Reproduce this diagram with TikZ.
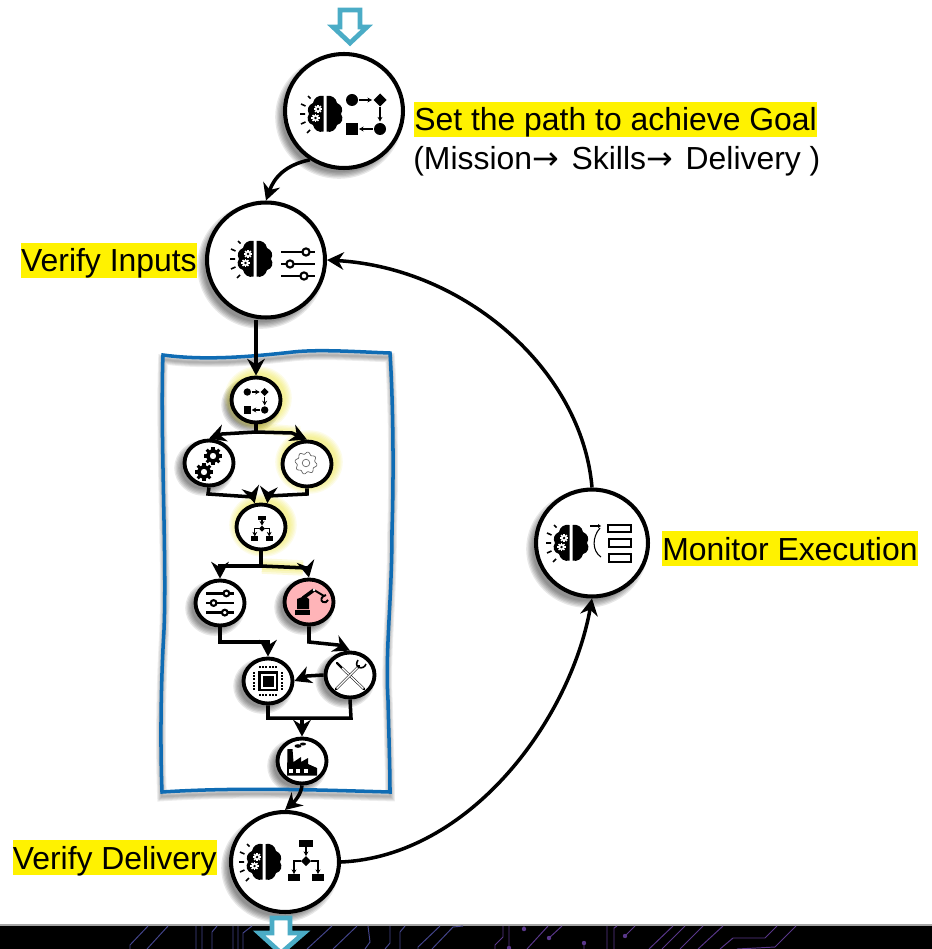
\documentclass[tikz,border=0pt]{standalone}
\usepackage{fontspec}
\setmainfont{Liberation Sans}
\newfontfamily\arrowfont{DejaVu Sans}
\usetikzlibrary{arrows.meta,shapes.geometric}
\definecolor{framecol}{HTML}{0F6CB4}
\definecolor{hollowcol}{HTML}{4BACC6}
\definecolor{robotcol}{HTML}{FFB4B8}
\definecolor{traceA}{HTML}{44458C}
\definecolor{traceB}{HTML}{59378A}
\newcommand{\softblob}[5]{%
  \foreach \k in {1,...,6} {\fill[#5,opacity=.09] (#1,#2) ellipse ({#3+\k*1.3} and {#4+\k*1.3});}}
\newcommand{\framepath}{(163,355) .. controls (200,360) and (240,358) .. (293,352)
  .. controls (320,349) and (360,352) .. (390,353) .. controls (393,400) and (394,470) .. (392,530)
  .. controls (392,600) and (385,650) .. (388,700) .. controls (389,740) and (390,770) .. (390,792)
  .. controls (320,790) and (240,787) .. (162,792) .. controls (160,740) and (161,680) .. (164,630)
  .. controls (167,560) and (160,430) .. (163,355) -- cycle}
\newcommand{\gearicon}{%
  \fill[even odd rule] (0,0) circle (7.5) circle (3.6);
  \foreach \a in {0,45,...,315} {\fill[rotate=\a] (-1.7,-10) rectangle (1.7,-6.5);}%
}
\newcommand{\brainicon}{%
  \foreach \s in {1,-1} {
    \fill[xscale=\s] (1.5,-18) .. controls (7,-19) and (11,-16) .. (12,-11)
      .. controls (17,-9) and (18.5,-4) .. (16,0) .. controls (19,4) and (17,10) .. (12,11)
      .. controls (11,16) and (6,19) .. (1.5,17.5) -- cycle;
  }
  \begin{scope}[white,shift={(-7,-5)},scale=.42]\gearicon\end{scope}
  \begin{scope}[white,shift={(-9.5,4)},scale=.42]\gearicon\end{scope}
  \draw[line width=.9pt] (-17,-18) -- (-14.5,-15.5) (-24,-10) -- (-19.5,-8) (-25,0) -- (-20,0)
    (-24,10) -- (-19.5,8) (-18,19) -- (-15,16);
}
\newcommand{\routeicon}{%
  \fill (-14,-14.5) circle (6);
  \fill (14,-21) -- (20.5,-14.5) -- (14,-8) -- (7.5,-14.5) -- cycle;
  \fill (14,14.5) circle (6);
  \fill (-20,8.5) rectangle (-8,20.5);
  \draw[tinyarr] (-7,-14.5) -- (6,-14.5);
  \draw[tinyarr] (14,-7) -- (14,7);
  \draw[tinyarr] (7,14.5) -- (-7,14.5);
}
\newcommand{\treeicon}{%
  \fill (-7,-20) rectangle (7,-13);
  \fill (0,-4) -- (5,1) -- (0,6) -- (-5,1) -- cycle;
  \fill (-18,14) rectangle (-6,21);
  \fill (6,14) rectangle (18,21);
  \draw[tinyarr] (0,-13) -- (0,-4);
  \draw[tinyarr] (-5,1) -- (-12,1) -- (-12,14);
  \draw[tinyarr] (5,1) -- (12,1) -- (12,14);
}
\newcommand{\slidericon}{%
  \draw[line width=1.4pt] (-17,-12) -- (17,-12) (-17,0) -- (17,0) (-17,12) -- (17,12);
  \foreach \kx/\ky in {8/-12,-8/0,6/12} {\draw[line width=1.2pt,fill=white] (\kx,\ky) circle (3.6);}%
}
\newcommand{\chipicon}{%
  \fill (-10,-10) rectangle (10,10);
  \fill[white] (-7.5,-7.5) rectangle (7.5,7.5);
  \fill (-5.5,-5.5) rectangle (5.5,5.5);
  \foreach \tk in {-8,-4.8,-1.6,1.6,4.8,8} {
    \fill (\tk-1,-15) rectangle (\tk+1,-12.6);
    \fill (\tk-1,12.6) rectangle (\tk+1,15);
    \fill (-15,\tk-1) rectangle (-12.6,\tk+1);
    \fill (12.6,\tk-1) rectangle (15,\tk+1);
  }
}
\newcommand{\toolicon}{%
  \draw[line width=1.4pt,line cap=round] (-13,-12) -- (-8,-7) -- (14,14);
  \draw[white,line width=.8pt] (-8,-7) -- (13.4,13.4);
  \draw[line width=1.4pt,line cap=round] (-14,14) -- (9,-9);
  \draw[white,line width=.8pt] (-13.4,13.4) -- (8,-8);
  \draw[line width=.9pt] (8,-15) .. controls (6,-12) and (6,-9) .. (9,-7.5)
    .. controls (12,-6.5) and (15,-8) .. (16,-11);
}
\newcommand{\roboticon}{%
  \fill (-14,8) rectangle (1,12.5);
  \fill (-12,-3) -- (-4,-6) -- (0,-3) -- (0,7) -- (-12,7) -- cycle;
  \draw[line width=2pt] (-6,-4) -- (5,-12);
  \draw[line width=1.1pt] (5,-12) -- (15,-6);
  \draw[line width=1.1pt] (17,-7) .. controls (12,-6) and (11,-1) .. (14,0) .. controls (16,1) and (18,0) .. (19,-2);
  \fill[white] (5,-12) circle (1.4);
}
\newcommand{\factoryicon}{%
  \fill (-15,14.5) -- (-14.5,-12) -- (-9.5,-12) -- (-8.5,1) -- (-1,-4) -- (-1,1) -- (6,-3) -- (6,3) -- (15,7) -- (15,14.5) -- cycle;
  \foreach \wx in {-11,-4,4} {\fill[white] (\wx-1.7,8) rectangle (\wx+1.7,11.5);}
  \fill (-4,-15) ellipse (3.5 and 1.8);
  \fill (1,-17) ellipse (3 and 1.5);
  \fill[white] (-13,-14) circle (1);
}
\newcommand{\trackicon}{%
  \draw[line width=.7pt] (2,-17) -- (12,-17);
  \fill (13,-17) -- (10,-19) -- (10,-15) -- cycle;
  \draw[line width=.6pt] (12,-15) .. controls (4,-6) and (4,8) .. (13,14);
  \draw[line width=1.2pt] (20,-18) rectangle (43,-11);
  \draw[line width=.8pt] (21,-4) rectangle (43,4);
  \draw[line width=.8pt] (21,11) rectangle (43,19);
}
\tikzset{
  arr/.style={-{Stealth[length=9.5pt,width=10pt]},line width=2pt},
  plainline/.style={line width=2pt},
  tinyarr/.style={-{Stealth[length=2.6pt,width=2.8pt]},line width=.7pt},
  bignode/.style={ellipse,draw,line width=2.3pt,fill=white,inner sep=0pt},
  smallnode/.style={ellipse,draw,line width=2.2pt,fill=white,inner sep=0pt,minimum width=.98cm,minimum height=.9cm},
  marker/.style={fill=yellow,inner sep=0pt,text height=16.6pt,text depth=3.4pt,font=\fontsize{18.15}{22}\selectfont},
  hollow/.style={draw=hollowcol,line width=2.7pt,fill=white,miter limit=10},
  trace/.style={line width=.55pt}
}
\begin{document}
\begin{tikzpicture}[x=0.02cm,y=-0.02cm]
  \useasboundingbox (0,0) rectangle (932,949);
  % band along the bottom edge
  \fill[black] (0,925) rectangle (932,949);
  \draw[gray!70,line width=.6pt] (0,925) -- (932,925);
  \draw[trace,traceA] (130,949) -- (130,945) -- (148,926) (147,949) -- (168,926)
    (196,926) -- (196,949) (202,926) -- (202,949) (212,949) -- (212,932) -- (217,926)
    (233,926) -- (233,949) (238,926) -- (238,949) (243,949) -- (243,933) -- (252,926)
    (307,949) -- (332,926) (333,949) -- (357,926) (368,926) -- (370,942) -- (365,949)
    (385,949) -- (390,943) -- (390,926) (400,949) -- (400,932) -- (405,926)
    (418,949) -- (418,947) -- (440,926) (432,949) -- (453,927) -- (463,926);
  \draw[trace,traceB] (503,926) -- (503,937) -- (495,945) -- (495,949) (509,926) -- (509,948)
    (524,926) -- (524,929) (527,949) -- (548,926) (549,938) -- (562,926) (584,943) -- (584,949)
    (607,926) -- (607,949) (614,949) -- (614,928) -- (617,926) (625,936) -- (635,926)
    (649,949) -- (673,926) (662,949) -- (685,926) (680,949) -- (703,926) (698,949) -- (723,926)
    (720,949) -- (733,938) -- (765,938) -- (777,926) (737,949) -- (775,947) -- (796,926);
  \foreach \dx/\dy in {509/948,524/929,549/938,584/943,625/936} {\fill[traceB] (\dx,\dy) circle (2.2);}
  % soft shadows and glows
  \foreach \sx/\sy/\rx/\ry in {339/117/56/54,261/266/56/55,587/549/53/51,280/868/51/47,
    251/405/22/20,204/468/22/20,215/608/22/20,304/607/22/20,263/686/22/20,345/680/22/20,297/766/22/20} {
    \softblob{\sx}{\sy}{\rx}{\ry}{black}
  }
  \foreach \sx/\sy in {258/398,309/462,263/525} {\softblob{\sx}{\sy}{26}{24}{yellow!90!black}}
  \foreach \k in {1,...,4} {
    \draw[yellow!90!black,opacity=.14,line width=\k*2.2pt] (262,566) -- (303,568);
    \draw[yellow!90!black,opacity=.1,line width=\k*1.6pt] (256,428) -- (300,432);
  }
  % frame
  \foreach \k in {1,...,5} {
    \draw[black,opacity=.07,line width=\k*1.1pt,yshift=-.09cm] \framepath;
  }
  \draw[framecol,line width=2pt] \framepath;
  % steps
  \node[bignode,minimum width=2.36cm,minimum height=2.28cm] (planner) at (344,111) {};
  \node[bignode,minimum width=2.36cm,minimum height=2.3cm] (inputs) at (266,260) {};
  \node[bignode,minimum width=2.24cm,minimum height=2.14cm] (monitor) at (592,543) {};
  \node[bignode,minimum width=2.16cm,minimum height=2cm] (delivery) at (285,862) {};
  \node[smallnode] (routeA) at (256,400) {};
  \node[smallnode] (gearsA) at (209,463) {};
  \node[smallnode] (gearB) at (307,464) {};
  \node[smallnode] (treeA) at (261,527) {};
  \node[smallnode] (slidersA) at (220,603) {};
  \node[smallnode,fill=robotcol] (robot) at (309,602) {};
  \node[smallnode] (chip) at (268,681) {};
  \node[smallnode] (tools) at (350,675) {};
  \node[smallnode] (factory) at (302,761) {};
  % icons
  \begin{scope}[shift={(325,114)}]\brainicon\end{scope}
  \begin{scope}[shift={(366,114.5)}]\routeicon\end{scope}
  \begin{scope}[shift={(255,259)}]\brainicon\end{scope}
  \begin{scope}[shift={(298,264)}]\slidericon\end{scope}
  \begin{scope}[shift={(571,543)}]\brainicon\end{scope}
  \begin{scope}[shift={(588,543)}]\trackicon\end{scope}
  \begin{scope}[shift={(264,862)}]\brainicon\end{scope}
  \begin{scope}[shift={(306,860)}]\treeicon\end{scope}
  \begin{scope}[shift={(256,401)},scale=.62]\routeicon\end{scope}
  \begin{scope}[shift={(213,456)},scale=.9]\gearicon\end{scope}
  \begin{scope}[shift={(204,472)},scale=.9]\gearicon\end{scope}
  \draw[black!65,line width=.35pt] plot[domain=0:360,samples=97,smooth] ({306+(10+1.1*sin(8*\x))*cos(\x)},{463+(10+1.1*sin(8*\x))*sin(\x)});
  \draw[black!65,line width=.35pt] (306,463) circle (3.8);
  \begin{scope}[shift={(262,528)},scale=.6]\treeicon\end{scope}
  \begin{scope}[shift={(220,603)},scale=.8]\slidericon\end{scope}
  \begin{scope}[shift={(309,602)}]\roboticon\end{scope}
  \begin{scope}[shift={(268,681)}]\chipicon\end{scope}
  \begin{scope}[shift={(350,675)}]\toolicon\end{scope}
  \begin{scope}[shift={(302,761)}]\factoryicon\end{scope}
  % connectors
  \coordinate (splitA) at (256,432);
  \coordinate (splitB) at (261,566);
  \coordinate (joinC) at (302,718);
  \draw[arr] (planner.235) .. controls (285,165) and (274,178) .. (inputs.90);
  \draw[arr] (inputs.south -| routeA) -- (routeA.north);
  \draw[plainline] (routeA.south) -- (splitA);
  \draw[arr] (splitA) -- (222,434) -- (gearsA.north);
  \draw[arr] (splitA) -- (292,433) -- (gearB.north);
  \draw[arr] (gearsA.south) -- (208,494) -- (253,497) -- (treeA.105);
  \draw[arr] (gearB.south) -- (307,494) -- (268,496) -- (treeA.75);
  \draw[plainline] (treeA.south) -- (splitB);
  \draw[arr] (splitB) -- (220,566) -- (slidersA.north);
  \draw[arr] (splitB) -- (307,568) -- (robot.north);
  \draw[arr] (slidersA.south) -- (220,642) -- (268,642) -- (chip.north);
  \draw[arr] (robot.south) -- (309,642) -- (338,645) -- (tools.north);
  \draw[arr] (tools.west) -- (307,676) -- (chip.east);
  \draw[plainline] (chip.south) -- (268,718) -- (351,718) -- (tools.south);
  \draw[arr] (joinC) -- (factory.north);
  \draw[arr] (factory.south) .. controls (301,795) and (294,802) .. (delivery.north);
  \draw[arr] (delivery.east) .. controls (470,856) and (570,720) .. (monitor.south);
  \draw[arr] (monitor.north) .. controls (582,370) and (465,268) .. (inputs.east);
  % hollow arrows
  \draw[hollow] (340,10) -- (360,10) -- (360,27) -- (367,27) -- (350,43) -- (333,27) -- (340,27) -- cycle;
  \draw[hollow] (272,918) -- (290,918) -- (290,933) -- (304,933) -- (281,953) -- (259,933) -- (272,933) -- cycle;
  % labels
  \node[marker,anchor=base west] (planText) at (414,131) {Set the path to achieve Goal};
  \node[font=\fontsize{18.15}{22}\selectfont,inner sep=0pt,anchor=base west] (planNote) at (413,170) {(Mission{\arrowfont →}\hspace{2.3pt} Skills{\arrowfont →}\hspace{2.3pt} Delivery )};
  \node[marker,anchor=base east] (inputsText) at (197,272) {Verify Inputs};
  \node[marker,anchor=base west] (monitorText) at (662,560) {Monitor Execution};
  \node[marker,anchor=base east] (deliveryText) at (217,869) {Verify Delivery};
\end{tikzpicture}
\end{document}
